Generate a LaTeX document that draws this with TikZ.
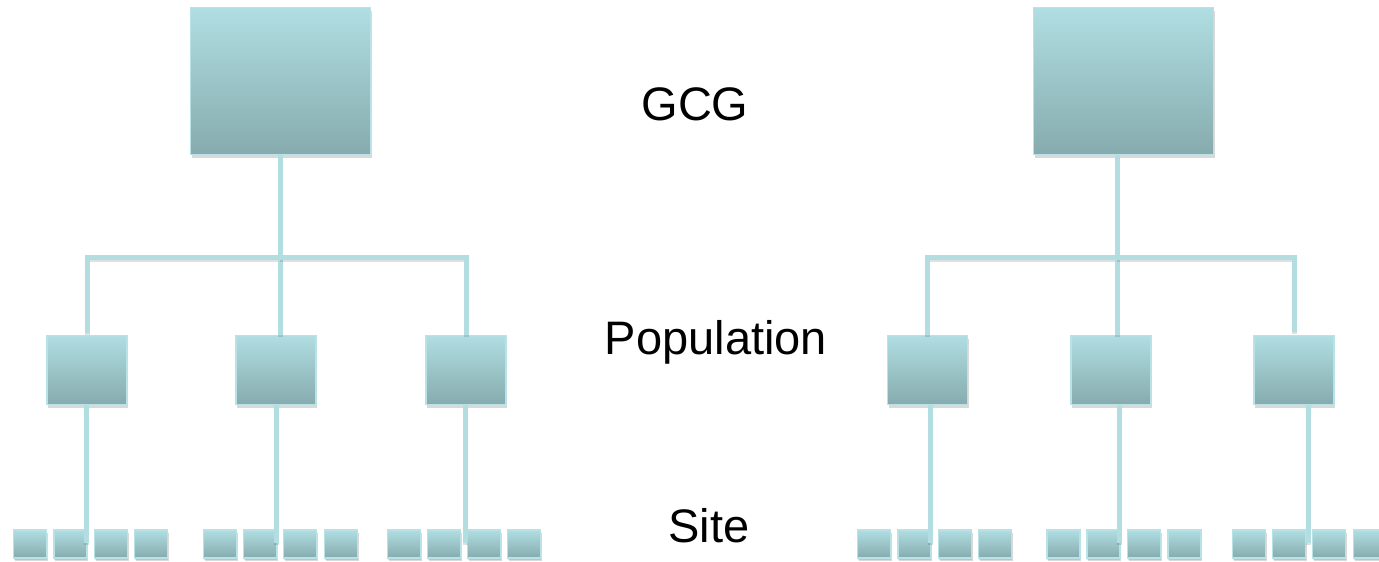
\documentclass[tikz,border=0pt]{standalone}
\usepackage{fontspec}
\setmainfont{Liberation Sans}
\usepackage{tikz}
\usetikzlibrary{calc, shadows}

\definecolor{boxtop}{RGB}{176,222,226}
\definecolor{boxbot}{RGB}{134,171,174}
\definecolor{boxrim}{RGB}{184,226,230}
\definecolor{linkcol}{RGB}{178,221,225}

\begin{document}
\begin{tikzpicture}[x=1pt, y=-1pt,
    box/.style={rectangle, inner sep=0pt, top color=boxtop, bottom color=boxbot,
      draw=boxrim, line width=1.5pt,
      drop shadow={shadow xshift=1pt, shadow yshift=-3pt, opacity=0.3}},
    bigbox/.style={box, minimum width=180pt, minimum height=147pt},
    popbox/.style={box, minimum width=80pt, minimum height=69pt},
    sitebox/.style={box, minimum width=33pt, minimum height=28pt,
      drop shadow={shadow xshift=0pt, shadow yshift=-2pt, opacity=0.25}},
    link/.style={draw=linkcol, line width=5pt,
      preaction={draw=black, opacity=0.12, line width=5pt, transform canvas={yshift=-2pt}}},
    level/.style={font=\fontsize{47}{50}\selectfont, anchor=base}]
      \useasboundingbox (0,0) rectangle (1379,562);

      % 1. 兩棵樹的頂層方塊
      \node[bigbox] (gcgL) at (280.5,81) {};
      \node[bigbox] (gcgR) at (1123.5,81) {};

      % 2. 中層方塊
      \node[popbox] (popL1) at (87,370) {};
      \node[popbox] (popL2) at (276,370) {};
      \node[popbox] (popL3) at (466,370) {};
      \node[popbox] (popR1) at (927.5,370) {};
      \node[popbox] (popR2) at (1111,370) {};
      \node[popbox] (popR3) at (1294,370) {};

      % 3. 底層小方塊
      \node[sitebox] (sL11) at (30,544) {};
      \node[sitebox] (sL12) at (70.5,544) {};
      \node[sitebox] (sL13) at (111,544) {};
      \node[sitebox] (sL14) at (151,544) {};
      \node[sitebox] (sL21) at (220,544) {};
      \node[sitebox] (sL22) at (260,544) {};
      \node[sitebox] (sL23) at (300,544) {};
      \node[sitebox] (sL24) at (341,544) {};
      \node[sitebox] (sL31) at (404,544) {};
      \node[sitebox] (sL32) at (444,544) {};
      \node[sitebox] (sL33) at (484,544) {};
      \node[sitebox] (sL34) at (524,544) {};
      \node[sitebox] (sR11) at (874,544) {};
      \node[sitebox] (sR12) at (914.5,544) {};
      \node[sitebox] (sR13) at (955,544) {};
      \node[sitebox] (sR14) at (995,544) {};
      \node[sitebox] (sR21) at (1063.5,544) {};
      \node[sitebox] (sR22) at (1103.5,544) {};
      \node[sitebox] (sR23) at (1144,544) {};
      \node[sitebox] (sR24) at (1184.5,544) {};
      \node[sitebox] (sR31) at (1249,544) {};
      \node[sitebox] (sR32) at (1289,544) {};
      \node[sitebox] (sR33) at (1329,544) {};
      \node[sitebox] (sR34) at (1370,544) {};

      % 4. 連接線的轉折點
      \coordinate (jL) at (280,257);
      \coordinate (jR) at (1117,257);
      \coordinate (eL1) at (86,543);
      \coordinate (eL2) at (276,543);
      \coordinate (eL3) at (465,543);
      \coordinate (eR1) at (930,543);
      \coordinate (eR2) at (1119,543);
      \coordinate (eR3) at (1308,543);

      % 5. 頂層到中層
      \draw[link] (jL |- gcgL.south) -- (jL);
      \draw[link] (jL) -| ($(popL1.north)+(0,-2)$);
      \draw[link] (jL) -- (jL |- popL2.north);
      \draw[link] (jL) -| (popL3.north);
      \draw[link] (jR |- gcgR.south) -- (jR);
      \draw[link] (jR) -| (popR1.north);
      \draw[link] (jR) -- (jR |- popR2.north);
      \draw[link] (jR) -| ($(popR3.north)+(0,-3)$);

      % 6. 中層到底層
      \draw[link] (eL1 |- popL1.south) -- (eL1);
      \draw[link] (eL2 |- popL2.south) -- (eL2);
      \draw[link] (eL3 |- popL3.south) -- (eL3);
      \draw[link] (eR1 |- popR1.south) -- (eR1);
      \draw[link] (eR2 |- popR2.south) -- (eR2);
      \draw[link] (eR3 |- popR3.south) -- (eR3);

      % 7. 層級名稱
      \node[level] (tGCG) at (695,120) {GCG};
      \node[level] (tPop) at (716,354) {Population};
      \node[level] (tSite) at (709,542) {Site};
    \end{tikzpicture}
\end{document}
